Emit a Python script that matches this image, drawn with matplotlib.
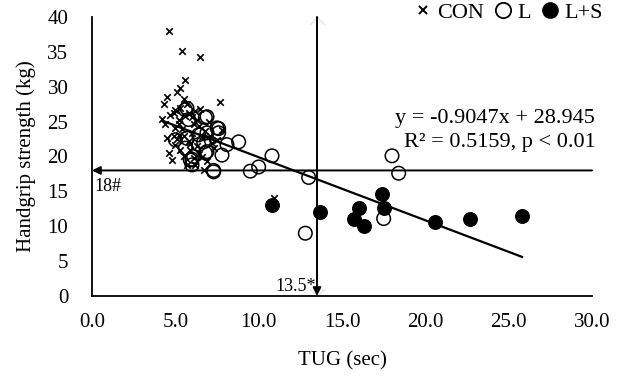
import matplotlib
matplotlib.use("Agg")
import matplotlib.pyplot as plt
import numpy as np
from matplotlib.lines import Line2D

plt.rcParams['font.family'] = ['Liberation Serif', 'DejaVu Serif']

# CON group (TUG sec, handgrip kg)
con_x = [4.6, 5.4, 6.5, 5.6, 5.3, 5.1, 7.7, 4.5, 4.3, 5.5, 5.7, 5.0, 4.2, 5.2, 6.2, 6.5,
         6.0, 5.0, 6.4, 4.5, 4.6, 5.0, 5.2, 5.7, 6.2, 6.7, 7.3, 7.8, 6.8, 5.8, 6.1, 5.4,
         4.9, 5.3, 6.6, 5.9, 4.8, 5.6, 6.3, 7.0, 5.1, 4.7, 6.9, 5.5, 6.0, 7.5, 5.8, 6.4,
         4.4, 5.3, 6.1, 10.9, 5.9, 6.3, 5.5, 7.1, 4.9, 6.6, 5.2, 7.2]
con_y = [38.0, 35.1, 34.2, 30.9, 29.8, 29.3, 27.8, 28.5, 27.5, 28.3, 27.5, 26.7, 25.4, 25.3, 26.5, 26.8,
         25.6, 24.1, 24.4, 22.6, 20.5, 21.7, 23.1, 18.8, 18.8, 18.1, 21.2, 23.8, 23.6, 22.2, 24.6, 24.0,
         23.0, 21.0, 22.8, 20.9, 19.5, 25.8, 21.5, 25.0, 22.5, 26.0, 19.3, 20.0, 23.4, 22.4, 26.3, 20.3,
         24.6, 27.0, 19.8, 14.0, 21.8, 25.2, 22.9, 23.0, 26.2, 19.9, 24.7, 21.9]

# L group
l_x = [5.7, 6.9, 7.6, 8.8, 8.1, 7.8, 10.8, 10.0, 9.5, 7.3, 13.0, 18.0, 18.4, 17.5, 12.8,
       6.9, 6.7, 5.0, 5.7, 5.6, 6.4, 6.8, 5.9, 6.0, 6.9, 7.6, 6.4, 7.3, 5.6, 6.8, 5.8, 7.5, 6.1, 6.0]
l_y = [26.9, 25.7, 24.0, 22.1, 21.7, 20.2, 20.1, 18.5, 17.9, 17.8, 17.0, 20.1, 17.6, 11.1, 9.0,
       20.7, 22.1, 22.4, 22.6, 21.2, 21.7, 20.5, 19.5, 18.8, 23.4, 23.4, 23.1, 18.0, 26.7, 25.6, 25.3, 24.1, 20.0, 19.6]

# L+S group
ls_x = [10.8, 13.7, 16.0, 15.7, 16.3, 17.4, 17.5, 20.6, 22.7, 25.8]
ls_y = [13.0, 12.1, 12.6, 11.0, 10.0, 14.6, 12.6, 10.6, 11.0, 11.5]

slope, intercept = -0.9047, 28.945
cut_tug, cut_hg = 13.5, 18

fig = plt.figure(figsize=(6.19, 3.76), dpi=100)
ax = fig.add_axes([0.1486, 0.2128, 0.9564 - 0.1486, 0.9548 - 0.2128])

ax.scatter(con_x, con_y, marker='x', s=22, color='black', linewidths=1.2, zorder=3)
ax.scatter(l_x, l_y, marker='o', s=95, facecolors='none', edgecolors='black', linewidths=1.1, zorder=3)
ax.scatter(ls_x, ls_y, marker='o', s=95, color='black', zorder=3)

allx = con_x + l_x + ls_x
xs = np.array([min(allx), max(allx)])
ax.plot(xs, slope * xs + intercept, color='black', lw=1.6, zorder=2)

# cutoff arrows
ax.annotate('', xy=(0, cut_hg), xytext=(30, cut_hg),
            arrowprops=dict(arrowstyle='-|>', color='black', lw=1.4, mutation_scale=12,
                            shrinkA=0, shrinkB=0), zorder=2)
ax.annotate('', xy=(cut_tug, 0), xytext=(cut_tug, 40),
            arrowprops=dict(arrowstyle='-|>', color='black', lw=1.4, mutation_scale=12,
                            shrinkA=0, shrinkB=0), zorder=2)
ax.scatter([cut_tug, cut_tug], [40, 0], marker='x', s=120, color='#e6e6e6', linewidths=1.0, zorder=1)

ax.text(0.15, 16.9, '18#', fontsize=13, ha='left', va='top')
ax.text(13.45, 0.2, '13.5*', fontsize=13, ha='right', va='bottom')

ax.text(30.2, 25.4, 'y = -0.9047x + 28.945', fontsize=16, ha='right', va='center')
ax.text(30.2, 22.0, 'R² = 0.5159, p < 0.01', fontsize=16, ha='right', va='center')

ax.set_xlim(0, 30)
ax.set_ylim(0, 40)
ax.set_xticks(np.arange(0, 31, 5))
ax.set_xticklabels([f'{v:.1f}' for v in np.arange(0, 31, 5)])
ax.set_yticks(np.arange(0, 41, 5))
ax.tick_params(axis='both', length=0, labelsize=15)
ax.tick_params(axis='y', pad=17)
ax.tick_params(axis='x', pad=12)
for s in ['top', 'right']:
    ax.spines[s].set_visible(False)
ax.spines['left'].set_linewidth(1.3)
ax.spines['bottom'].set_linewidth(1.3)

ax.set_xlabel('TUG (sec)', fontsize=15, labelpad=14)
ax.set_ylabel('Handgrip strength (kg)', fontsize=15, labelpad=8)

handles = [Line2D([], [], marker='x', ls='none', color='black', markersize=6, mew=1.4),
           Line2D([], [], marker='o', ls='none', mfc='none', mec='black', markersize=11, mew=1.3),
           Line2D([], [], marker='o', ls='none', color='black', markersize=11)]
fig.legend(handles, ['CON', 'L', 'L+S'], ncol=3, loc='upper right', bbox_to_anchor=(0.995, 1.03),
           frameon=False, fontsize=16, handletextpad=0.15, columnspacing=0.35, handlelength=1.0,
           borderaxespad=0.2)

fig.savefig('out.png', dpi=100)
